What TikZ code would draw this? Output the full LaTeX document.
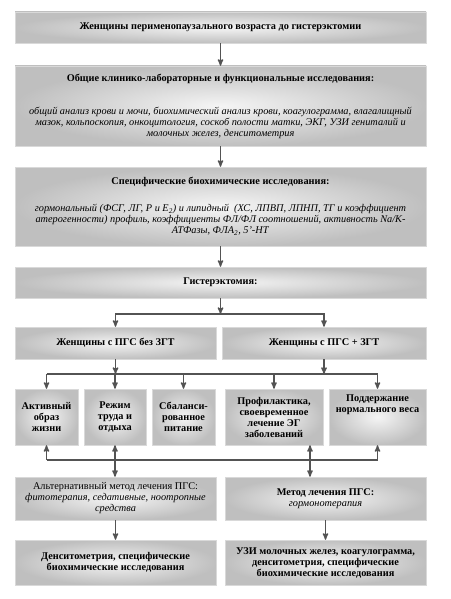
\documentclass[tikz,border=0pt]{standalone}
\usepackage{fontspec}
\setmainfont{Liberation Serif}
\usepackage{tikz}
\usepgflibrary{arrows}

\begin{document}
\begin{tikzpicture}[x=1pt,y=-1pt]
\tikzset{
  box/.style={draw=gray!30,shade,inner color=gray!8,outer color=gray!50,
    align=center,inner sep=1pt,font=\fontsize{10.3}{11}\selectfont},
  arr/.style={->,>=stealth',draw=gray!65!black,line width=1.3pt},
  ln/.style={draw=gray!65!black,line width=1.3pt}
}
% box: [style]{name}{x1}{y1}{x2}{y2}{text}
\newcommand\bx[7][]{
  \node[box,minimum width={#5-#3},minimum height={#6-#4},#1] (#2)
    at ({(#3+#5)/2},{(#4+#6)/2}) {#7};
}
\useasboundingbox (0,0) rectangle (450,599);

\bx{top}{15}{12}{426}{43}{\textbf{Женщины перименопаузального возраста до гистерэктомии}}
\bx{gen}{15}{66}{426}{146}{\textbf{Общие клинико-лабораторные и функциональные исследования:}\\[22pt]
  \textit{общий анализ крови и мочи, биохимический анализ крови, коагулограмма, влагалищный}\\
  \textit{мазок, кольпоскопия, онкоцитология, соскоб полости матки, ЭКГ, УЗИ гениталий и}\\
  \textit{молочных желез, денситометрия}}
\bx{spec}{15}{167}{426}{246}{\textbf{Специфические биохимические исследования:}\\[16pt]
  \textit{гормональный (ФСГ, ЛГ, Р и E\textsubscript{2}) и липидный\ \ (ХС, ЛПВП, ЛПНП, ТГ и коэффициент}\\
  \textit{атерогенности) профиль, коэффициенты ФЛ/ФЛ соотношений, активность Na/K-}\\
  \textit{АТФазы, ФЛА\textsubscript{2}, 5'-НТ}}
\bx{hyst}{15}{267}{426}{298}{\textbf{Гистерэктомия:}}
\bx{noZ}{15}{327}{216}{359}{\textbf{Женщины с ПГС без ЗГТ}}
\bx{withZ}{222}{327}{426}{359}{\textbf{Женщины с ПГС + ЗГТ}}

\bx{A}{15}{389}{78}{445}{\textbf{Активный}\\\textbf{образ}\\\textbf{жизни}}
\bx{B}{84}{389}{146}{445}{\textbf{Режим}\\\textbf{труда и}\\\textbf{отдыха}}
\bx{C}{152}{389}{215}{445}{\textbf{Сбаланси-}\\\textbf{рованное}\\\textbf{питание}}
\bx{D}{225}{389}{323}{445}{\textbf{Профилактика,}\\\textbf{своевременное}\\\textbf{лечение ЭГ}\\\textbf{заболеваний}}
\bx[text depth=26pt]{E}{329}{389}{426}{445}{\textbf{Поддержание}\\\textbf{нормального веса}}

\bx{F}{15}{477}{216}{520}{Альтернативный метод лечения ПГС:\\
  \textit{фитотерапия, седативные, ноотропные}\\\textit{средства}}
\bx{G}{225}{477}{426}{520}{\textbf{Метод лечения ПГС:}\\\textit{гормонотерапия}}
\bx{H}{15}{540}{216}{585}{\textbf{Денситометрия, специфические}\\\textbf{биохимические исследования}}
\bx{I}{225}{540}{426}{585}{\textbf{УЗИ молочных желез, коагулограмма,}\\
  \textbf{денситометрия, специфические}\\\textbf{биохимические исследования}}

\coordinate (split) at (220.5,314);
\coordinate (busT) at (0,374);
\coordinate (busB) at (0,460);
\coordinate (dx) at (310,0);

\draw[arr] (top) -- (gen);
\draw[arr] (gen) -- (spec);
\draw[arr] (spec) -- (hyst);
\draw[arr] (hyst) -- (split);
\draw[arr] (split) -| (noZ);
\draw[arr] (split) -| (withZ);

\draw[arr] (noZ) -- (noZ |- busT);
\draw[arr] (withZ) -- (withZ |- busT);
\draw[ln] (A |- busT) -- (E |- busT);
\foreach \n in {A,B,C,D,E}
  \draw[arr] (\n |- busT) -- (\n);

\draw[ln] (A |- busB) -- (E |- busB);
\draw[arr] (A |- busB) -- (A);
\draw[arr] (E |- busB) -- (E);
\draw[arr,<->] (B) -- (B |- F.north);
\draw[arr,<->] (dx |- D.south) -- (dx |- G.north);

\draw[arr] (F) -- (H);
\draw[arr] (G) -- (I);
\end{tikzpicture}
\end{document}
